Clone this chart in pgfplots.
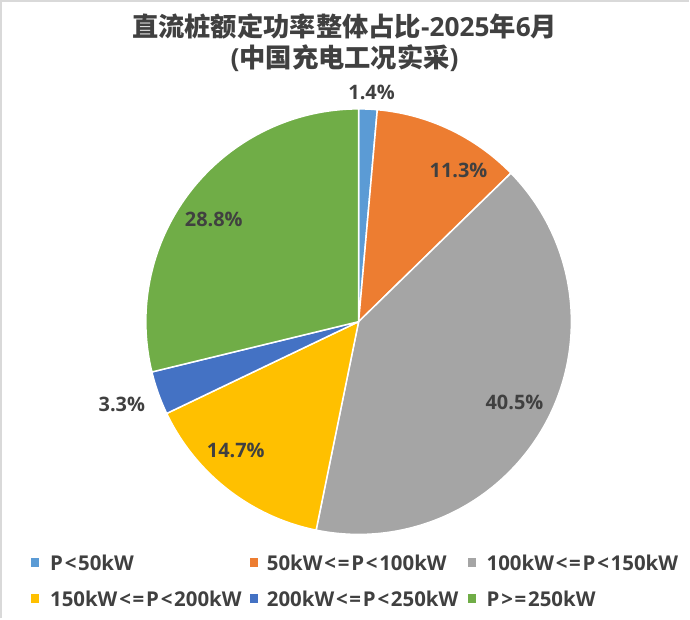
\documentclass[border=0pt]{standalone}
\usepackage{pgfplots}
\pgfplotsset{compat=1.18}
\usepackage{pgfplotstable}
\usepackage{fontspec}
\setmainfont{Open Sans}
\newfontfamily\cjk{Noto Sans CJK SC}
\definecolor{c1}{HTML}{5B9BD5}
\definecolor{c2}{HTML}{ED7D31}
\definecolor{c3}{HTML}{A5A5A5}
\definecolor{c4}{HTML}{FFC000}
\definecolor{c5}{HTML}{4472C4}
\definecolor{c6}{HTML}{70AD47}
\definecolor{txt}{HTML}{404040}
\definecolor{edge}{HTML}{D9D9D9}
\newcommand\LT{\kern1.8bp<\kern1.8bp}
\newcommand\GT{\kern1.8bp>\kern1.8bp}
\newcommand\EQ{=\kern1.8bp}

% share (%), colour, label position (pixels from top-left)
\pgfplotstableread{
value color lx ly
1.4 c1 372 93
11.3 c2 459 171
40.5 c3 515 403
14.7 c4 236 451
3.3 c5 122 405
28.8 c6 214 220
}\piedata

\begin{document}
\begin{tikzpicture}
\begin{axis}[
  scale only axis, width=690bp, height=619bp,
  xmin=0, xmax=690, ymin=0, ymax=619, y dir=reverse,
  hide axis, clip=false,
]
\pgfplotsextra{%
  \path (axis cs:0,0) rectangle (axis cs:690,619);
  \draw[edge, line width=1.5bp] (axis cs:1,619) -- (axis cs:1,1) -- (axis cs:690,1);
  \gdef\cum{0}%
  \foreach \i in {0,...,5}{%
    \pgfplotstablegetelem{\i}{value}\of\piedata \global\let\v\pgfplotsretval
    \pgfplotstablegetelem{\i}{color}\of\piedata \global\let\c\pgfplotsretval
    \pgfmathsetmacro\a{90-3.6*\cum}%
    \pgfmathsetmacro\b{90-3.6*(\cum+\v)}%
    \fill[\c, draw=white, line width=1.5bp, line join=round]
      (axis cs:359,322) -- ++(\a:213bp) arc[start angle=\a, end angle=\b, radius=213bp] -- cycle;
    \pgfmathsetmacro\n{\cum+\v}\xdef\cum{\n}%
  }%
  \foreach \i in {0,...,5}{%
    \pgfplotstablegetelem{\i}{value}\of\piedata \let\v\pgfplotsretval
    \pgfplotstablegetelem{\i}{lx}\of\piedata \let\lx\pgfplotsretval
    \pgfplotstablegetelem{\i}{ly}\of\piedata \let\ly\pgfplotsretval
    \node[txt, font=\bfseries\fontsize{20}{24}\selectfont, inner sep=0]
      at (axis cs:\lx,\ly) {\v\%};
  }%
  % title
  \node[txt, anchor=base, inner sep=0, font=\bfseries\fontsize{26.4}{30}\selectfont]
    at (axis cs:345,37) {{\cjk\bfseries 直流桩额定功率整体占比}-2025{\cjk\bfseries 年}6{\cjk\bfseries 月}};
  \node[txt, anchor=base, inner sep=0, font=\bfseries\fontsize{26.4}{30}\selectfont]
    at (axis cs:345,68) {({\cjk\bfseries 中国充电工况实采})};
  % legend
  \fill[c1] (axis cs:31,559) rectangle (axis cs:39,568);
  \fill[c2] (axis cs:250,559) rectangle (axis cs:258,568);
  \fill[c3] (axis cs:469,559) rectangle (axis cs:477,568);
  \fill[c4] (axis cs:31,595) rectangle (axis cs:39,604);
  \fill[c5] (axis cs:250,595) rectangle (axis cs:258,604);
  \fill[c6] (axis cs:469,595) rectangle (axis cs:477,604);
  \begin{scope}[every node/.style={txt, anchor=base west, inner sep=0, font=\bfseries\fontsize{20.5}{24}\selectfont}]
    \node at (axis cs:50,571) {P\LT 50kW};
    \node at (axis cs:267,571) {50kW\LT\EQ P\LT 100kW};
    \node at (axis cs:487,571) {100kW\LT\EQ P\LT 150kW};
    \node at (axis cs:50,607) {150kW\LT\EQ P\LT 200kW};
    \node at (axis cs:267,607) {200kW\LT\EQ P\LT 250kW};
    \node at (axis cs:487,607) {P\GT\EQ 250kW};
  \end{scope}
}
\end{axis}
\end{tikzpicture}
\end{document}
